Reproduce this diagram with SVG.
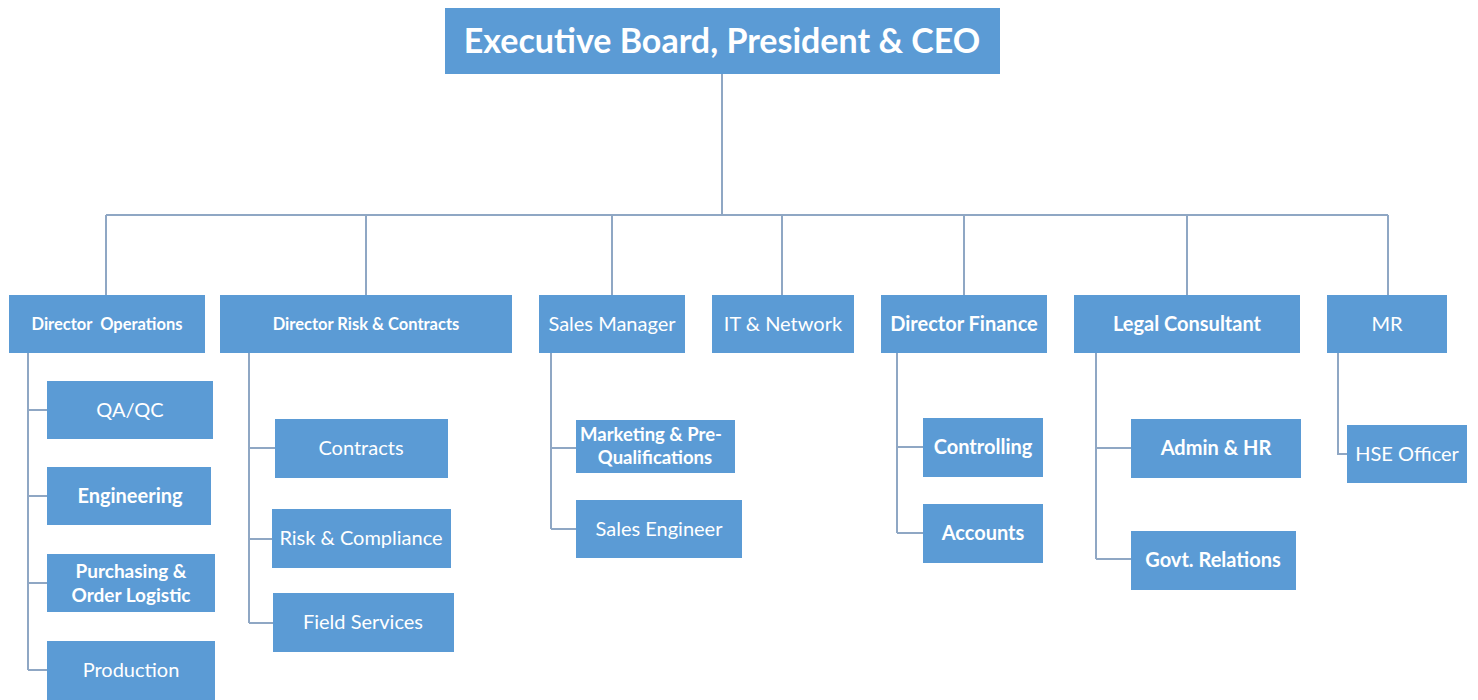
<svg xmlns="http://www.w3.org/2000/svg" width="1478" height="700" viewBox="0 0 1478 700">
<style>
.box{fill:#5B9BD5;}
.t{font-family:Lato,"Open Sans","Liberation Sans",sans-serif;fill:#ffffff;text-anchor:middle;font-size:20px;}
.b{font-weight:bold;}
.n{font-weight:normal;}
.c{fill:none;stroke:#8FA7C4;stroke-width:2;}
</style>
<rect width="1478" height="700" fill="#ffffff"/>
<g id="connectors">
<path class="c" d="M722,74 V215 M106,215 H1388 M106,215 V295 M366,215 V295 M612,215 V295 M782,215 V295 M964,215 V295 M1187,215 V295 M1388,215 V295"/>
<path class="c" d="M28,353 V670 M28,410 H47 M28,496 H47 M28,583 H47 M28,670 H47"/>
<path class="c" d="M249,353 V623 M249,448 H275 M249,539 H272 M249,623 H273"/>
<path class="c" d="M551,353 V529 M551,448 H576 M551,529 H576"/>
<path class="c" d="M897,353 V533 M897,447 H923 M897,533 H923"/>
<path class="c" d="M1096,353 V559 M1096,448 H1131 M1096,559 H1131"/>
<path class="c" d="M1338,353 V454 H1347"/>
</g>
<g id="ceo"><rect class="box" x="445" y="8" width="555" height="66"/><text class="t b" x="722" y="53" style="font-size:34px">Executive Board, President &amp; CEO</text></g>
<g id="dir-ops"><rect class="box" x="9" y="295" width="196" height="58"/><text class="t b" x="107" y="330" style="font-size:16.5px" xml:space="preserve">Director  Operations</text></g>
<g id="dir-risk"><rect class="box" x="220" y="295" width="292" height="58"/><text class="t b" x="366" y="330" style="font-size:16.5px">Director Risk &amp; Contracts</text></g>
<g id="sales-mgr"><rect class="box" x="539" y="295" width="146" height="58"/><text class="t n" x="612" y="331">Sales Manager</text></g>
<g id="it"><rect class="box" x="712" y="295" width="142" height="58"/><text class="t n" x="783" y="331">IT &amp; Network</text></g>
<g id="dir-fin"><rect class="box" x="881" y="295" width="166" height="58"/><text class="t b" x="964" y="331">Director Finance</text></g>
<g id="legal"><rect class="box" x="1074" y="295" width="226" height="58"/><text class="t b" x="1187" y="331">Legal Consultant</text></g>
<g id="mr"><rect class="box" x="1327" y="295" width="120" height="58"/><text class="t n" x="1387" y="331">MR</text></g>
<g id="qaqc"><rect class="box" x="47" y="381" width="166" height="58"/><text class="t n" x="130" y="417">QA/QC</text></g>
<g id="engineering"><rect class="box" x="47" y="467" width="164" height="58"/><text class="t b" x="130" y="503">Engineering</text></g>
<g id="purchasing"><rect class="box" x="47" y="554" width="168" height="58"/><text class="t b" style="font-size:19px"><tspan x="131" y="578">Purchasing &amp;</tspan><tspan x="131" y="602">Order Logistic</tspan></text></g>
<g id="production"><rect class="box" x="47" y="641" width="168" height="59"/><text class="t n" x="131" y="677">Production</text></g>
<g id="contracts"><rect class="box" x="275" y="419" width="173" height="59"/><text class="t n" x="361" y="455">Contracts</text></g>
<g id="risk-compliance"><rect class="box" x="272" y="509" width="179" height="59"/><text class="t n" x="361" y="545">Risk &amp; Compliance</text></g>
<g id="field-services"><rect class="box" x="273" y="593" width="181" height="59"/><text class="t n" x="363" y="629">Field Services</text></g>
<g id="marketing"><rect class="box" x="576" y="420" width="159" height="53"/><text class="t b" style="font-size:18.5px"><tspan x="651" y="441">Marketing &amp; Pre-</tspan><tspan x="655" y="464">Qualifications</tspan></text></g>
<g id="sales-eng"><rect class="box" x="576" y="500" width="166" height="58"/><text class="t n" x="659" y="536">Sales Engineer</text></g>
<g id="controlling"><rect class="box" x="923" y="418" width="120" height="59"/><text class="t b" x="983" y="454">Controlling</text></g>
<g id="accounts"><rect class="box" x="923" y="504" width="120" height="59"/><text class="t b" x="983" y="540">Accounts</text></g>
<g id="admin-hr"><rect class="box" x="1131" y="419" width="170" height="59"/><text class="t b" x="1216" y="455">Admin &amp; HR</text></g>
<g id="govt"><rect class="box" x="1131" y="531" width="165" height="59"/><text class="t b" x="1213" y="567">Govt. Relations</text></g>
<g id="hse"><rect class="box" x="1347" y="425" width="120" height="58"/><text class="t n" x="1407" y="461">HSE Officer</text></g>
</svg>
